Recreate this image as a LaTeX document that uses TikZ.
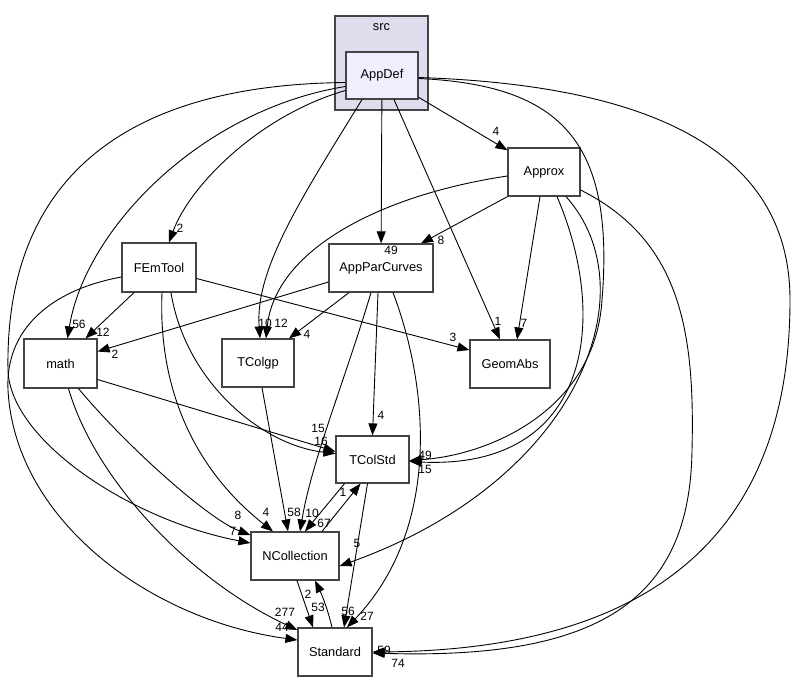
\documentclass[tikz,border=0pt]{standalone}
\usepackage{fontspec}
\setmainfont{Liberation Sans}
\usetikzlibrary{arrows.meta}
\definecolor{clfill}{HTML}{DDDDEE}
\definecolor{adfill}{HTML}{EEEEFF}
\definecolor{bord}{HTML}{444444}
\begin{document}
\begin{tikzpicture}[x=1pt,y=-1pt,
  dnode/.style={draw=bord, line width=1.2pt, fill=white, inner sep=0pt, font=\fontsize{12.8}{14}\selectfont},
  clusterbox/.style={draw=bord, line width=1.2pt, fill=clfill, inner sep=0pt},
  lbl/.style={inner sep=0pt, font=\fontsize{12}{13}\selectfont},
  dep/.style={draw=black, line width=0.9pt, -{Triangle[length=12pt,width=9pt]}}]
\useasboundingbox (0,0) rectangle (795,681);
% cluster
\node[clusterbox, minimum width=93pt, minimum height=94pt] (src) at (381.5,63) {};
\node[lbl, font=\fontsize{12.8}{14}\selectfont] (srclbl) at (381.5,27) {src};
% nodes
\node[dnode, fill=adfill, minimum width=72pt, minimum height=47pt] (AppDef) at (382,75.5) {AppDef};
\node[dnode, minimum width=72pt, minimum height=48pt] (Approx) at (544,172) {Approx};
\node[dnode, minimum width=74pt, minimum height=49pt] (FEmTool) at (159,267.5) {FEmTool};
\node[dnode, minimum width=104pt, minimum height=48pt] (AppParCurves) at (381,268) {AppParCurves};
\node[dnode, minimum width=73pt, minimum height=49pt] (math) at (60.5,363.5) {math};
\node[dnode, minimum width=72pt, minimum height=48pt] (TColgp) at (258,363) {TColgp};
\node[dnode, minimum width=80pt, minimum height=48pt] (GeomAbs) at (510,364) {GeomAbs};
\node[dnode, minimum width=73pt, minimum height=47pt] (TColStd) at (372.5,459.5) {TColStd};
\node[dnode, minimum width=88pt, minimum height=48pt] (NCollection) at (295,556) {NCollection};
\node[dnode, minimum width=74pt, minimum height=48pt] (Standard) at (335,652) {Standard};

% edges from AppDef
\draw[dep] (AppDef) -- (Approx);
\draw[dep] ([yshift=-15pt]AppDef.west) .. controls (260,115) and (190,185) .. ([xshift=10pt]FEmTool.north);
\draw[dep] ([yshift=-11pt]AppDef.west) .. controls (200,110) and (85,230) .. ([xshift=7pt]math.north);
\draw[dep] ([yshift=-7pt]AppDef.west) .. controls (100,85) and (5,200) .. (8,370) .. controls (10,440) and (130,520) .. ([yshift=13pt]NCollection.west);
\draw[dep] ([xshift=-20pt]AppDef.south) .. controls (300,200) and (255,270) .. ([xshift=2pt]TColgp.north);
\draw[dep] (AppDef) -- (AppParCurves);
\draw[dep] ([xshift=12pt]AppDef.south) -- ([xshift=-10pt]GeomAbs.north);
\draw[dep] ([yshift=-3pt]AppDef.east) .. controls (560,85) and (615,140) .. (602,300) .. controls (595,410) and (490,455) .. ([yshift=-1pt]TColStd.east);
\draw[dep] ([yshift=-2pt]AppDef.east) .. controls (650,85) and (790,150) .. (790,300) .. controls (790,560) and (620,650) .. (Standard.east);

% edges from Approx
\draw[dep] ([yshift=-4pt]Approx.west) .. controls (380,195) and (275,250) .. ([xshift=8pt]TColgp.north);
\draw[dep] (Approx.south west) -- ([xshift=40pt]AppParCurves.north);
\draw[dep] ([xshift=-4pt]Approx.south) -- ([xshift=7pt]GeomAbs.north);
\draw[dep] ([xshift=13pt]Approx.south) .. controls (610,320) and (590,470) .. ([yshift=-2pt]TColStd.east);
\draw[dep] ([xshift=22pt]Approx.south) .. controls (650,290) and (580,480) .. ([yshift=-10pt]NCollection.east);
\draw[dep] ([yshift=-18pt]Approx.east) .. controls (680,240) and (695,330) .. (692,450) .. controls (690,600) and (600,660) .. ([yshift=-1pt]Standard.east);

% edges from FEmTool
\draw[dep] ([yshift=-9.5pt]FEmTool.west) .. controls (50,290) and (5,330) .. (8,390) .. controls (15,520) and (150,620) .. ([yshift=12pt]Standard.west);
\draw[dep] ([xshift=-25pt]FEmTool.south) -- ([xshift=25pt]math.north);
\draw[dep] ([yshift=-11pt]FEmTool.east) -- ([yshift=14pt]GeomAbs.west);
\draw[dep] ([xshift=12pt]FEmTool.south) .. controls (185,380) and (260,445) .. ([yshift=6pt]TColStd.west);
\draw[dep] ([xshift=3pt]FEmTool.south) .. controls (158,390) and (195,470) .. ([xshift=-22pt]NCollection.north);

% edges from AppParCurves
\draw[dep] ([yshift=-14pt]AppParCurves.west) -- ([yshift=12pt]math.east);
\draw[dep] ([xshift=-32pt]AppParCurves.south) -- ([xshift=31pt]TColgp.north);
\draw[dep] ([xshift=-3pt]AppParCurves.south) -- (TColStd.north);
\draw[dep] ([xshift=-10pt]AppParCurves.south) .. controls (345,380) and (312,460) .. ([xshift=5pt]NCollection.north);
\draw[dep] ([xshift=12pt]AppParCurves.south) .. controls (430,390) and (440,530) .. ([xshift=12pt]Standard.north);

% edges from math
\draw[dep] ([yshift=-16pt]math.east) -- ([yshift=8pt]TColStd.west);
\draw[dep] ([xshift=18pt]math.south) .. controls (130,450) and (210,520) .. ([yshift=21pt]NCollection.west);
\draw[dep] ([xshift=8pt]math.south) .. controls (95,480) and (190,580) .. ([yshift=22pt]Standard.west);

% other edges
\draw[dep] ([xshift=4pt]TColgp.south) -- ([xshift=-7pt]NCollection.north);
\draw[dep] ([xshift=-28pt]TColStd.south) -- ([xshift=10pt]NCollection.north);
\draw[dep] ([xshift=27pt]NCollection.north) -- ([xshift=-12pt]TColStd.south);
\draw[dep] ([xshift=-5pt]TColStd.south) -- ([xshift=9pt]Standard.north);
\draw[dep] ([xshift=2pt]NCollection.south) -- ([xshift=-22pt]Standard.north);
\draw[dep] ([xshift=-3pt]Standard.north) .. controls (328,610) and (322,595) .. ([xshift=20pt]NCollection.south);

% labels
\node[lbl] (l01) at (496,131) {4};
\node[lbl] (l02) at (180,228) {2};
\node[lbl] (l03) at (79,324) {56};
\node[lbl] (l04) at (103,332) {12};
\node[lbl] (l05) at (115,354) {2};
\node[lbl] (l06) at (265,323) {10};
\node[lbl] (l07) at (281,323) {12};
\node[lbl] (l08) at (307,334) {4};
\node[lbl] (l09) at (391,250) {49};
\node[lbl] (l10) at (441,240) {8};
\node[lbl] (l11) at (498,321) {1};
\node[lbl] (l12) at (524,323) {7};
\node[lbl] (l13) at (453,337) {3};
\node[lbl] (l14) at (381,415) {4};
\node[lbl] (l15) at (318,428) {15};
\node[lbl] (l16) at (321,441) {16};
\node[lbl] (l17) at (425,455) {49};
\node[lbl] (l18) at (425,469) {15};
\node[lbl] (l19) at (343,492) {1};
\node[lbl] (l20) at (312,513) {10};
\node[lbl] (l21) at (324,523) {67};
\node[lbl] (l22) at (294,512) {58};
\node[lbl] (l23) at (266,512) {4};
\node[lbl] (l24) at (238,515) {8};
\node[lbl] (l25) at (233,531) {7};
\node[lbl] (l26) at (357,543) {5};
\node[lbl] (l27) at (308,594) {2};
\node[lbl] (l28) at (318,607) {53};
\node[lbl] (l29) at (348,611) {56};
\node[lbl] (l30) at (367,616) {27};
\node[lbl] (l31) at (285,612) {277};
\node[lbl] (l32) at (282,627) {44};
\node[lbl] (l33) at (398,663) {74};
\node[lbl] (l34) at (384,650) {59};
\end{tikzpicture}
\end{document}
